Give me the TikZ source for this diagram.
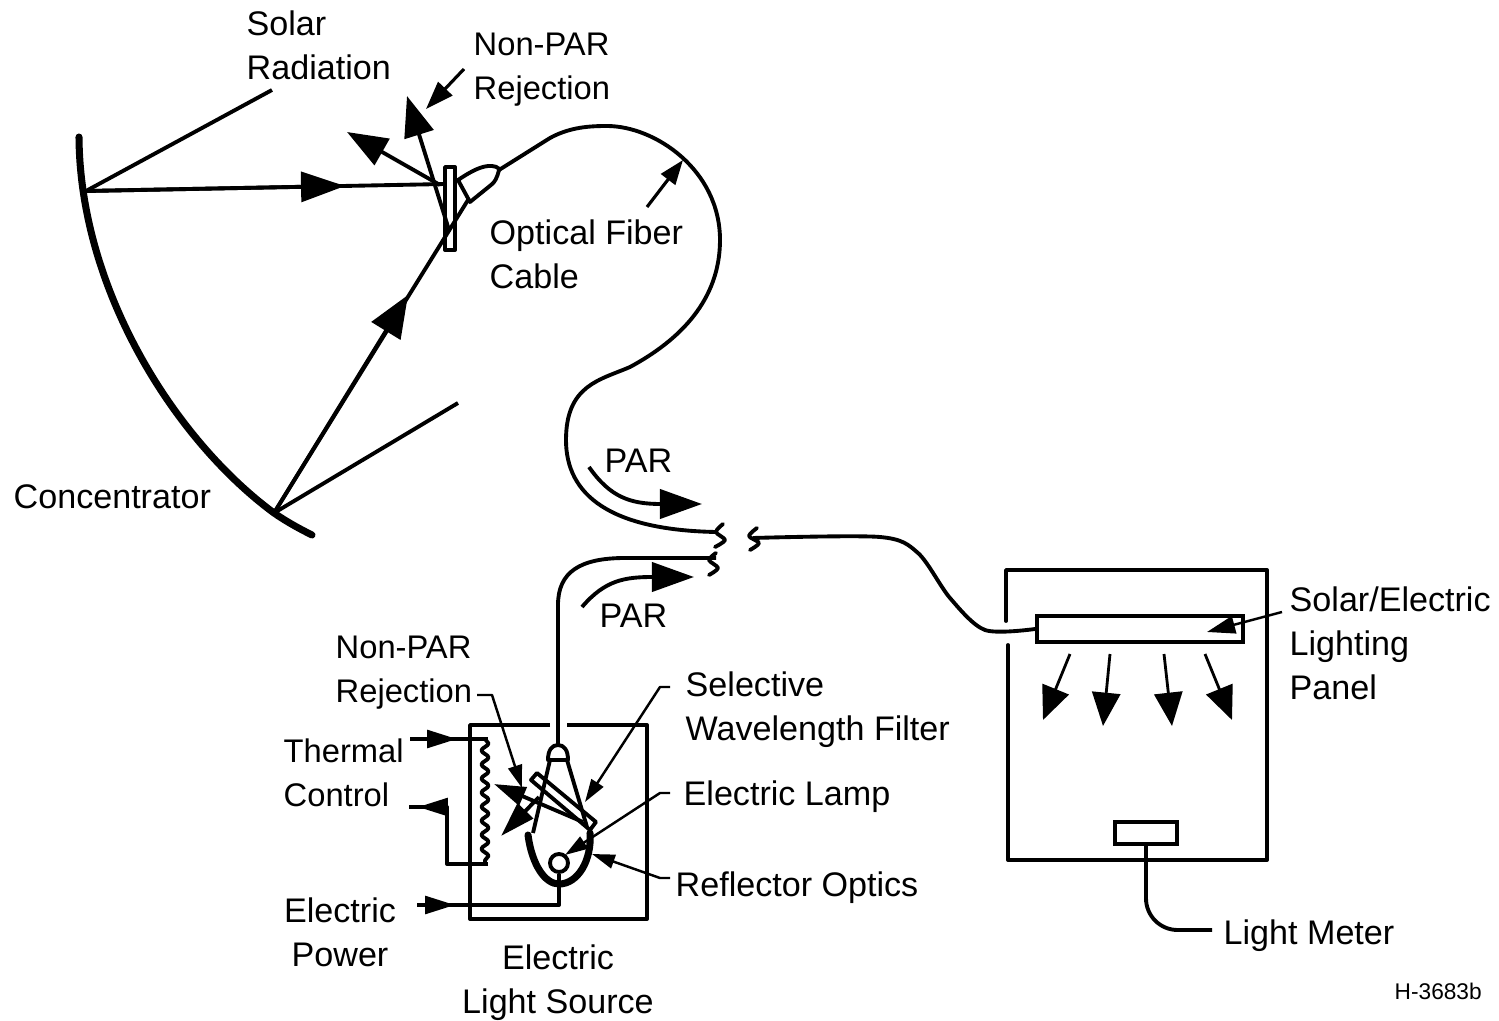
\documentclass[tikz,border=0pt]{standalone}
\usepackage{fontspec}
\setmainfont{Liberation Sans}
\usetikzlibrary{arrows.meta, decorations.pathmorphing}

\begin{document}
\begin{tikzpicture}[
  x=0.01cm, y=-0.01cm,
  wire/.style={line width=1.1pt, line join=round},
  heavy/.style={line width=2pt, line cap=round},
  bigtip/.style={wire, -{Triangle[length=12.5pt,width=8.5pt]}},
  fantip/.style={line width=0.8pt, -{Triangle[length=9.5pt,width=8pt]}},
  midtip/.style={wire, -{Triangle[length=8.5pt,width=5pt]}},
  thintip/.style={line width=0.7pt, line join=round, -{Triangle[length=6.5pt,width=4pt]}},
  lbl/.style={inner sep=0pt, align=left, anchor=west, font=\fontsize{9.7}{12.5}\selectfont},
  tight/.style={lbl, font=\fontsize{9.3}{12.5}\selectfont},
  mid/.style={lbl, align=center, anchor=center},
  frame/.style={draw, line width=1.1pt, inner sep=0pt},
]
  \useasboundingbox (0,0) rectangle (1499,1021);

  % labels
  \node[lbl] (solar) at (246,45) {Solar\\Radiation};
  \node[tight] (rejectTop) at (473,70) {Non-PAR\\Rejection};
  \node[lbl] (cable) at (489,254) {Optical Fiber\\Cable};
  \node[lbl] (concentrator) at (13,497) {Concentrator};
  \node[lbl] (parTop) at (604,461) {PAR};
  \node[lbl] (parLow) at (599,616) {PAR};
  \node[tight] (rejectLow) at (335,673) {Non-PAR\\Rejection};
  \node[tight] (thermal) at (283,773) {Thermal\\Control};
  \node[mid] (power) at (340,932) {Electric\\Power};
  \node[mid] (source) at (558,983) {Electric\\Light Source};
  \node[lbl] (selective) at (685,710) {Selective\\Wavelength Filter};
  \node[lbl] (lampText) at (683,797) {Electric Lamp};
  \node[lbl] (optics) at (675,888) {Reflector Optics};
  \node[lbl] (panelText) at (1289,643) {Solar/Electric\\Lighting\\Panel};
  \node[lbl] (meterText) at (1223,936) {Light Meter};
  \node[lbl, font=\fontsize{6.45}{8}\selectfont] (code) at (1394,991) {H-3683b};

  % concentrator and rays
  \coordinate (dishTop) at (86,191);
  \coordinate (dishLow) at (274,513);
  \coordinate (hitTop) at (445,184);
  \coordinate (hitLow) at (449,230);
  \coordinate (tipBack) at (468,200);
  \draw[heavy] (79,137) .. controls (80,290) and (175,440) .. (dishLow) .. controls (287,522) and (300,529) .. (312,535);
  \draw[wire] (272,90) -- (dishTop);
  \draw[wire] (458,403) -- (dishLow);
  \draw[wire] (dishTop) -- (hitTop);
  \draw[bigtip] (dishTop) -- (345,186);
  \draw[wire] (dishLow) -- (tipBack);
  \draw[wire, -{Triangle[length=12pt,width=9.5pt]}] (dishLow) -- (408,295);
  \draw[wire, -{Triangle[length=11.5pt,width=8.5pt]}] (440,185) -- (347,132);
  \draw[wire, -{Triangle[length=11.5pt,width=8.5pt]}] (hitLow) -- (407,96);
  \draw[line width=0.9pt, -{Triangle[length=8pt,width=5.5pt]}] (464,69) -- (426,109);

  % fiber tip and filter
  \draw[wire] (445,167) rectangle (455,250);
  \coordinate (fiberTip) at (499,170);
  \draw[wire] (458,180) .. controls (470,172) and (482,165) .. (492,166)
    .. controls (498,166) and (501,171) .. (fiberTip)
    .. controls (497,178) and (495,182) .. (491,185) -- (470,202) -- cycle;

  % fiber run
  \coordinate (fiberEnd) at (716,532);
  \draw[wire] (fiberTip) -- (550,138) .. controls (570,127) and (590,126) .. (607,126)
    .. controls (655,126) and (720,170) .. (720,240)
    .. controls (720,300) and (680,340) .. (630,367)
    .. controls (600,380) and (566,385) .. (566,440)
    .. controls (566,495) and (610,530) .. (fiberEnd);
  \draw[line width=0.9pt, -{Triangle[length=7pt,width=5pt]}] (647,207) -- (683,160);
  \draw[wire, line cap=round] plot[smooth] coordinates {(723,524) (716,532) (725,540) (715,547)};

  \coordinate (fiberLow) at (716,558);
  \draw[wire] (558,745) -- (558,605) .. controls (558,572) and (580,558) .. (625,558) -- (fiberLow);
  \draw[wire, line cap=round] plot[smooth] coordinates {(716,553) (709,560) (718,568) (709,575)};

  % panel box
  \node[frame, minimum width=2.06cm, minimum height=0.26cm] (panel) at (1140,629) {};
  \coordinate (fiberRight) at (753,538);
  \draw[wire] plot[smooth, tension=0.5] coordinates {(fiberRight) (880,537) (918,553) (950,598) (985,630) (panel.west)};
  \draw[wire, line cap=round] plot[smooth] coordinates {(757,528) (749,536) (759,543) (750,550)};

  % PAR arrows
  \draw[wire, -{Triangle[length=12pt,width=8.3pt]}] (589,467) .. controls (610,497) and (630,504) .. (702,504);
  \draw[wire, -{Triangle[length=12pt,width=8.3pt]}] (582,607) .. controls (605,580) and (625,577) .. (694,577);

  \draw[wire, line cap=round] (1006,621) -- (1006,570) -- (1267,570) -- (1267,860) -- (1008,860) -- (1008,645);
  \draw[line width=0.7pt, -{Triangle[length=8pt,width=5pt]}] (1282,612) -- (1207,632);
  \draw[fantip] (1070,654) -- (1043,720);
  \draw[fantip] (1110,654) -- (1103,726);
  \draw[fantip] (1164,654) -- (1172,726);
  \draw[fantip] (1205,654) -- (1232,720);
  \node[frame, minimum width=0.62cm, minimum height=0.22cm] (meter) at (1146,833) {};
  \coordinate (meterEnd) at (1212,930);
  \draw[wire, rounded corners=9pt] (meter.south) -- (1146,930) -- (meterEnd);

  % light source box
  \draw[wire] (550,725) -- (470,725) -- (470,919) -- (647,919) -- (647,725) -- (567,725);
  \draw[wire] (548,760) .. controls (548,750) and (552,745) .. (558,745)
    .. controls (564,745) and (568,750) .. (568,760) -- cycle;
  \draw[wire] (550,760) -- (533,833);
  \draw[wire] (567,760) -- (587,827);
  \draw[heavy] (528,835) .. controls (532,865) and (545,884) .. (559,884)
    .. controls (578,884) and (592,860) .. (590,833);
  \draw[wire] (531,780) -- (537,773) -- (596,822) -- (590,830) -- cycle;
  \node[frame, circle, minimum size=0.18cm] (bulb) at (559,863) {};

  % filter rays
  \draw[wire, -{Triangle[length=9pt,width=5.5pt]}] (583,822) -- (494,784);
  \draw[wire, -{Triangle[length=10pt,width=6pt]}] (539,797) -- (501,836);

  % leads
  \draw[wire] (bulb.south) -- (559,905) -- (417,905);
  \draw[midtip] (417,905) -- (455,905);
  \draw[wire] (410,739) -- (488,739);
  \draw[midtip] (410,739) -- (457,739);
  \draw[wire, decorate, decoration={snake, segment length=4pt, amplitude=1pt}] (485,739) -- (485,864);
  \draw[wire] (488,864) -- (447,864) -- (447,807) -- (409,807);
  \draw[midtip] (447,807) -- (418,807);

  % pointers
  \draw[thintip] (477,695) -- (492,695) -- (522,788);
  \draw[thintip] (670,687) -- (660,687) -- (585,802);
  \draw[thintip] (670,793) -- (660,793) -- (565,855);
  \draw[thintip] (670,878) -- (660,878) -- (592,854);
\end{tikzpicture}
\end{document}
